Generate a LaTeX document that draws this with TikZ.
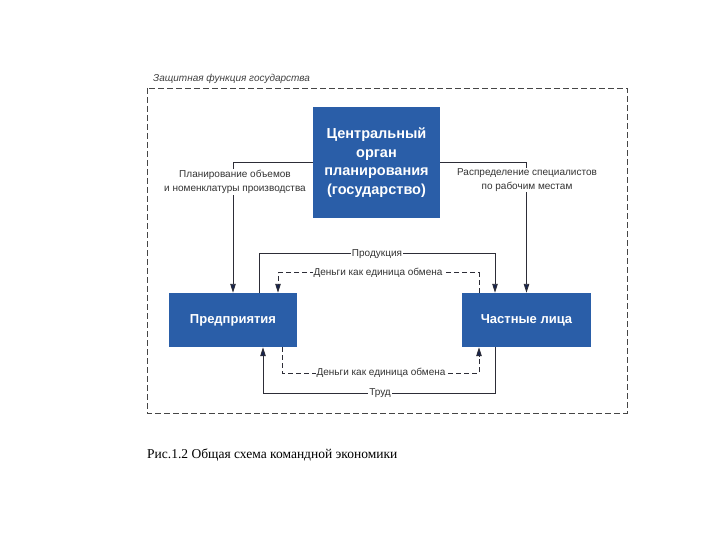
\documentclass[tikz,border=0pt]{standalone}
\usepackage{fontspec}
\setmainfont{Liberation Serif}
\newfontfamily\lsans{Liberation Sans}
\usetikzlibrary{arrows.meta}
\definecolor{boxblue}{RGB}{42,94,168}
\definecolor{linec}{RGB}{45,45,55}
\definecolor{arrc}{RGB}{22,36,80}
\definecolor{framec}{RGB}{70,70,70}
\tikzset{
  bluebox/.style={draw=none, fill=boxblue, text=white, align=center,
    font=\lsans\bfseries\fontsize{14.5bp}{18.5bp}\selectfont, inner sep=0pt},
  flow/.style={draw=linec, line width=0.9bp, -{Triangle[length=9bp,width=5.5bp,fill=arrc]}},
  dflow/.style={flow, dash pattern=on 5bp off 3bp},
  lbl/.style={fill=white, inner sep=1bp, align=center, text=black!80,
    font=\lsans\fontsize{10bp}{14bp}\selectfont},
  frame/.style={draw=framec, line width=0.9bp, dash pattern=on 6bp off 3bp},
}
\begin{document}
\begin{tikzpicture}[x=1bp,y=-1bp]
\useasboundingbox (0,0) rectangle (720,540);
\draw[frame] (147,88) rectangle (627,413);
\node[anchor=west, inner sep=0pt, text=black!75, font=\lsans\itshape\fontsize{10bp}{12bp}\selectfont] (title) at (153,79) {Защитная функция государства};

\node[bluebox, minimum width=127bp, minimum height=111bp] (c) at (376.5,162.5) {Центральный\\орган\\планирования\\(государство)};
\node[bluebox, minimum width=128bp, minimum height=54bp, font=\lsans\bfseries\fontsize{13bp}{15bp}\selectfont] (p) at (233,320) {Предприятия};
\node[bluebox, minimum width=129bp, minimum height=54bp, font=\lsans\bfseries\fontsize{13bp}{15bp}\selectfont] (h) at (526.5,320) {Частные лица};

\draw[flow] (c.west) -| (p.north);
\draw[flow] (c.east) -| (h.north);
\draw[flow] ([xshift=26bp]p.north) -- ++(0,-39) coordinate (pa) -| ([xshift=-31.5bp]h.north);
\draw[dflow] ([xshift=-47.5bp]h.north) -- ++(0,-20) coordinate (da) -| ([xshift=45bp]p.north);
\draw[dflow] ([xshift=49bp]p.south) -- ++(0,26) coordinate (db) -| ([xshift=-47.5bp]h.south);
\draw[flow] ([xshift=-31.5bp]h.south) -- ++(0,46) coordinate (ta) -| ([xshift=30bp]p.south);

\node[lbl] (l1) at (235,182) {Планирование объемов\\и номенклатуры производства};
\node[lbl] (l2) at (527,180) {Распределение специалистов\\по рабочим местам};
\node[lbl] (l3) at (377,254) {Продукция};
\node[lbl] (l4) at (378,273) {Деньги как единица обмена};
\node[lbl] (l5) at (381,373) {Деньги как единица обмена};
\node[lbl] (l6) at (380,393) {Труд};

\node[anchor=west, inner sep=0pt, font=\fontsize{13.5bp}{16bp}\selectfont] (cap) at (147,455) {Рис.1.2 Общая схема командной экономики};
\end{tikzpicture}
\end{document}
